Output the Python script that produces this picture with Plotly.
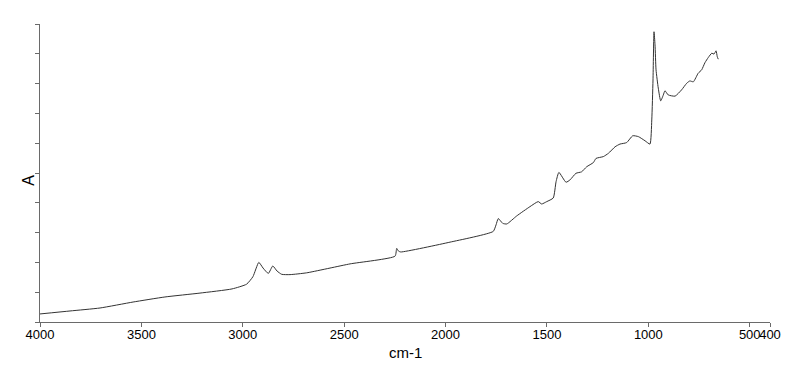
import plotly.graph_objects as go

# IR spectrum (wavenumber cm-1, absorbance in arbitrary units)
wavenumber = [4000, 3852, 3704, 3541, 3384, 3211, 3053, 2981, 2950, 2921, 2900, 2874, 2852, 2831,
              2808, 2767, 2685, 2471, 2249, 2241, 2232, 2221, 1978, 1765, 1751, 1740, 1718, 1698,
              1649, 1584, 1543, 1526, 1501, 1469, 1455, 1441, 1406, 1386, 1357, 1329, 1304, 1271,
              1258, 1222, 1197, 1164, 1140, 1107, 1077, 1049, 1016, 992, 983, 977, 972, 967, 962,
              951, 939, 926, 918, 902, 868, 836, 811, 795, 778, 754, 737, 721, 704, 687, 676, 666,
              660, 655]
absorbance = [0.027, 0.037, 0.047, 0.067, 0.084, 0.097, 0.111, 0.127, 0.152, 0.200, 0.181, 0.163,
              0.188, 0.171, 0.160, 0.159, 0.165, 0.195, 0.221, 0.247, 0.238, 0.235, 0.268, 0.304,
              0.326, 0.347, 0.331, 0.329, 0.356, 0.387, 0.404, 0.396, 0.404, 0.416, 0.471, 0.502,
              0.469, 0.477, 0.499, 0.504, 0.521, 0.535, 0.549, 0.555, 0.566, 0.588, 0.597, 0.602,
              0.625, 0.622, 0.608, 0.597, 0.678, 0.812, 0.974, 0.930, 0.846, 0.785, 0.742, 0.762,
              0.776, 0.762, 0.758, 0.779, 0.801, 0.809, 0.806, 0.835, 0.846, 0.870, 0.888, 0.902,
              0.899, 0.910, 0.890, 0.882]

x_ticks = [4000, 3500, 3000, 2500, 2000, 1500, 1000, 500, 400]
y_ticks = [0.0, 0.1, 0.2, 0.3, 0.4, 0.5, 0.6, 0.7, 0.8, 0.9, 1.0]

FONT = "Liberation Sans, Arial, sans-serif"
AXIS_COLOR = "#6a6a6a"

fig = go.Figure()
fig.add_trace(go.Scatter(
    x=wavenumber, y=absorbance, mode="lines",
    line=dict(color="#333333", width=1, shape="spline", smoothing=0.5),
    hoverinfo="skip", showlegend=False,
))

fig.update_layout(
    width=800, height=367,
    margin=dict(l=40, r=30, t=24, b=45),
    paper_bgcolor="white", plot_bgcolor="white",
    font=dict(family=FONT, color="#000000"),
    xaxis=dict(
        range=[4000, 400], tickmode="array", tickvals=x_ticks,
        ticktext=[str(v) for v in x_ticks], tickangle=0,
        ticks="outside", ticklen=4, tickcolor=AXIS_COLOR, tickwidth=1,
        ticklabelstandoff=-4,
        showline=True, linecolor=AXIS_COLOR, linewidth=1,
        showgrid=False, zeroline=False, tickfont=dict(size=13, family=FONT),
    ),
    yaxis=dict(
        range=[0, 1], tickmode="array", tickvals=y_ticks, showticklabels=False,
        ticks="outside", ticklen=4, tickcolor=AXIS_COLOR, tickwidth=1,
        showline=True, linecolor=AXIS_COLOR, linewidth=1,
        showgrid=False, zeroline=False,
    ),
    annotations=[
        dict(text="cm-1", xref="paper", yref="paper", x=0.5, y=0, yshift=-30,
             xanchor="center", yanchor="middle", showarrow=False,
             font=dict(size=15, family=FONT)),
        dict(text="A", xref="paper", yref="paper", x=0, y=0.474, xshift=-11,
             xanchor="center", yanchor="middle", showarrow=False, textangle=-90,
             font=dict(size=16, family=FONT)),
    ],
)

fig.write_html("out.html")
